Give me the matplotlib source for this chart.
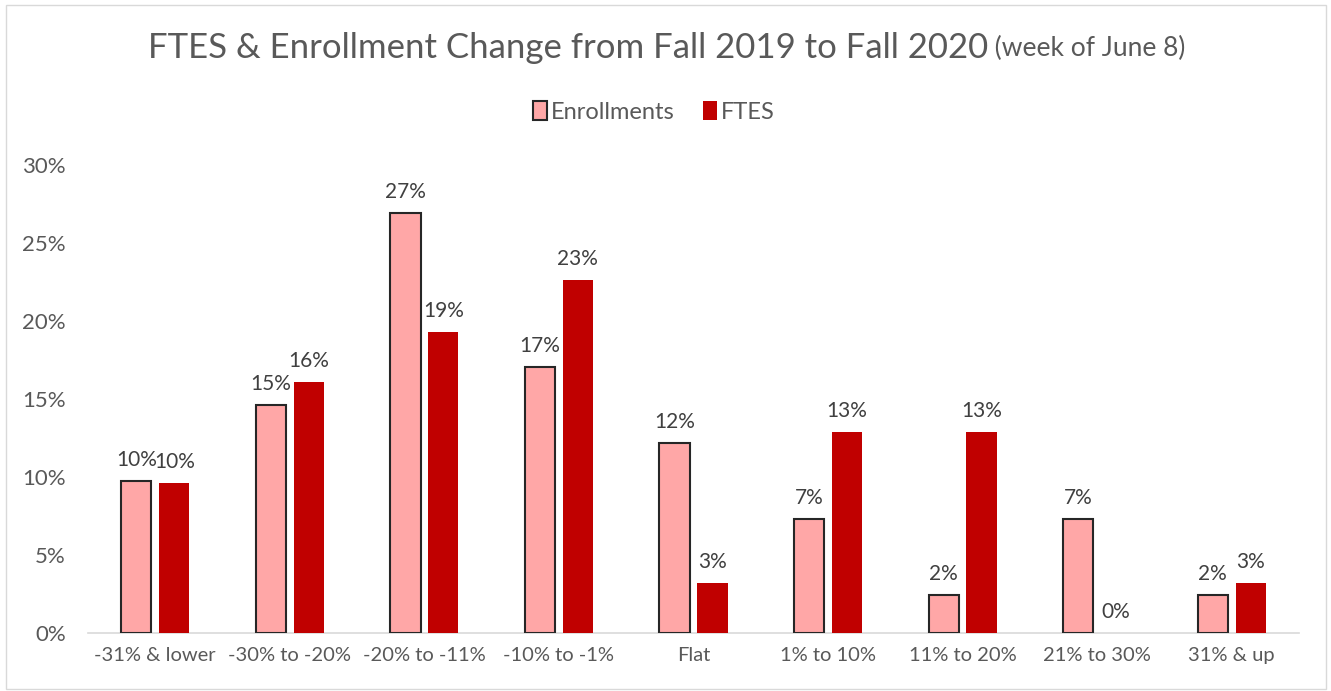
import matplotlib
matplotlib.use("Agg")
import matplotlib.pyplot as plt
import numpy as np
from matplotlib.patches import Rectangle

categories = ["-31% & lower", "-30% to -20%", "-20% to -11%", "-10% to -1%", "Flat",
              "1% to 10%", "11% to 20%", "21% to 30%", "31% & up"]
enrollments = [9.75, 14.6, 26.9, 17.05, 12.2, 7.3, 2.44, 7.3, 2.44]
ftes = [9.6, 16.1, 19.3, 22.6, 3.2, 12.9, 12.9, 0.0, 3.2]
yticks = [0, 5, 10, 15, 20, 25, 30]

plt.rcParams['font.family'] = ['Lato', 'DejaVu Sans']
txt = '#595959'

fig = plt.figure(figsize=(13.31, 6.91), dpi=100)
ax = fig.add_axes([88/1331, 1-633/691, (1299-88)/1331, (633-165)/691])

x = np.arange(len(categories))
w = 0.225
off = 0.141
b1 = ax.bar(x - off, enrollments, w, color='#FFA7A7', edgecolor='#262626', linewidth=1.5, label='Enrollments', zorder=3)
b2 = ax.bar(x + off, ftes, w, color='#C00000', edgecolor='none', label='FTES', zorder=3)

for bars, vals in ((b1, enrollments), (b2, ftes)):
    for r, v in zip(bars, vals):
        ax.annotate(f"{round(v):.0f}%", (r.get_x() + r.get_width()/2, v), xytext=(0, 8),
                    textcoords='offset points', ha='center', va='bottom', fontsize=15, color='#404040')

ax.set_xlim(-0.5, len(categories) - 0.5)
ax.set_ylim(0, 30)
ax.set_yticks(yticks)
ax.set_yticklabels([f"{t}%" for t in yticks], fontsize=16, color=txt)
ax.set_xticks(x)
ax.set_xticklabels(categories, fontsize=14.5, color=txt)
ax.tick_params(axis='x', length=0, pad=10)
ax.tick_params(axis='y', length=0, pad=16)
for s in ('top', 'right', 'left'):
    ax.spines[s].set_visible(False)
ax.spines['bottom'].set_color('#D9D9D9')
ax.spines['bottom'].set_linewidth(1.2)

leg = fig.legend(handles=[b1, b2], labels=['Enrollments', 'FTES'], loc='center',
                 bbox_to_anchor=(654/1331, 1-112/691), ncol=2, frameon=False,
                 fontsize=17, handlelength=0.6, handleheight=0.85, handletextpad=0.15,
                 columnspacing=1.2, labelcolor=txt)

# title in two parts, centered as a whole
t1 = fig.text(0.5, 1-48/691, "FTES & Enrollment Change from Fall 2019 to Fall 2020",
              fontsize=25, color=txt, ha='left', va='center')
t2 = fig.text(0.5, 1-48/691, " (week of June 8)", fontsize=19, color=txt, ha='left', va='center')
fig.canvas.draw()
r = fig.canvas.get_renderer()
w1 = t1.get_window_extent(r).width
w2 = t2.get_window_extent(r).width
start = 667 - (w1 + w2) / 2
t1.set_x(start / 1331)
t2.set_x((start + w1) / 1331)

fig.patches.append(Rectangle((6/1331, 0.003), 1320/1331, 0.99, transform=fig.transFigure,
                             fill=False, edgecolor='#D9D9D9', linewidth=1))

fig.savefig('out.png', dpi=100)
